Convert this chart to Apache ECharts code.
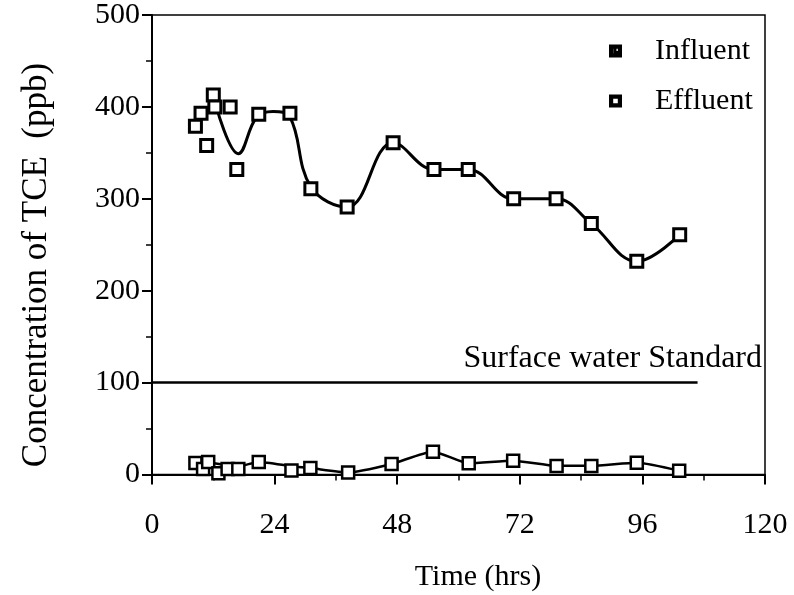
<!DOCTYPE html>
<html>
<head>
<meta charset="utf-8">
<script src="https://cdn.jsdelivr.net/npm/echarts@6/dist/echarts.min.js"></script>
<style>html,body{margin:0;padding:0;background:#fff;}#chart{width:794px;height:595px;}</style>
</head>
<body>
<div id="chart"></div>
<script>
// ---- data ----
var influentTime = [8.5, 9.6, 10.7, 12.0, 12.3, 15.3, 16.6, 20.9, 27.0, 31.1, 38.2, 47.2, 55.2, 61.9, 70.8, 79.1, 86.0, 94.9, 103.3];
var influentTCE  = [379, 393, 358, 413, 400, 400, 332, 392, 393, 311, 291, 361, 332, 332, 300, 300, 273, 232, 261];
// points read along the smooth fitted curve drawn over the influent data
var influentFitTime = [12.6, 16.9, 20.5, 23.7, 27.0, 31.1, 38.2, 47.2, 55.2, 61.9, 70.8, 79.1, 86.0, 94.9, 103.3];
var influentFitTCE  = [400, 349, 389, 395, 389, 313, 291, 361, 332, 332, 300, 300, 273, 232, 261];

var effluentTime = [8.5, 10.0, 11.0, 13.0, 14.8, 16.9, 20.9, 27.3, 31.0, 38.4, 46.9, 55.0, 62.0, 70.7, 79.2, 86.0, 94.9, 103.2];
var effluentTCE  = [12.5, 6, 13.6, 1.3, 6, 6, 13.6, 4.4, 7, 2.2, 11.4, 24.8, 12.2, 15, 9.2, 9.2, 12.8, 4.1];
var effluentFitTime = [11.0, 16.9, 20.9, 27.3, 31.0, 38.4, 46.9, 55.0, 62.0, 70.7, 79.2, 86.0, 94.9, 103.2];
var effluentFitTCE  = [13, 9, 13.6, 9, 7, 2.2, 11.4, 24.8, 12.2, 15, 9.5, 9.5, 12.8, 4.1];

var standardValue = 100;
var standardTime = [0, 106.8];
var standardLabel = 'Surface water Standard';

var xTicks = [0, 24, 48, 72, 96, 120];
var yTicks = [0, 100, 200, 300, 400, 500];

function pairs(xs, ys) { return xs.map(function (x, i) { return [x, ys[i]]; }); }

var FONT = 'Liberation Serif';
var influentIcon = 'path://M0,0H10V10H0Z M2,2V8H8V2Z M4,3V7H7V6H5V3Z';
var effluentIcon = 'path://M0,0H10V10H0Z M2,2V8H8V2Z';

var chart = echarts.init(document.getElementById('chart'), null, {renderer: 'canvas'});
var option = {
  animation: false,
  backgroundColor: '#fff',
  grid: { left: 152, right: 29, top: 15, bottom: 120.5, show: true, borderColor: '#000', borderWidth: 1.5, backgroundColor: 'transparent' },
  xAxis: {
    type: 'value', min: xTicks[0], max: xTicks[xTicks.length - 1], interval: 24,
    axisLine: { lineStyle: { color: '#000', width: 2 } },
    axisTick: { length: 10, lineStyle: { color: '#000', width: 2 } },
    minorTick: { show: true, splitNumber: 2, length: 6, lineStyle: { color: '#000', width: 1.5 } },
    splitLine: { show: false },
    axisLabel: { color: '#000', fontFamily: FONT, fontSize: 30, margin: 36 }
  },
  yAxis: {
    type: 'value', min: yTicks[0], max: yTicks[yTicks.length - 1], interval: 100,
    axisLine: { lineStyle: { color: '#000', width: 2 } },
    axisTick: { length: 10, lineStyle: { color: '#000', width: 2 } },
    minorTick: { show: true, splitNumber: 2, length: 6, lineStyle: { color: '#000', width: 1.5 } },
    splitLine: { show: false },
    axisLabel: { color: '#000', fontFamily: FONT, fontSize: 30, margin: 12 }
  },
  legend: {
    orient: 'vertical', left: 604, top: 31, itemWidth: 11, itemHeight: 11, itemGap: 20,
    textStyle: { color: '#000', fontFamily: FONT, fontSize: 30, padding: [0, 0, 0, 29] },
    data: [
      { name: 'Influent', icon: influentIcon, itemStyle: { color: '#000' } },
      { name: 'Effluent', icon: effluentIcon, itemStyle: { color: '#000' } }
    ]
  },
  series: [
    { name: 'Standard', type: 'line', data: pairs(standardTime, standardTime.map(function () { return standardValue; })),
      showSymbol: false, lineStyle: { color: '#000', width: 2.5 }, z: 2, silent: true },
    { name: 'Influent fit', type: 'line', data: pairs(influentFitTime, influentFitTCE), smooth: 0.4,
      showSymbol: false, lineStyle: { color: '#000', width: 3 }, z: 2 },
    { name: 'Effluent fit', type: 'line', data: pairs(effluentFitTime, effluentFitTCE), smooth: 0.2,
      showSymbol: false, lineStyle: { color: '#000', width: 2.5 }, z: 2 },
    { name: 'Influent', type: 'scatter', data: pairs(influentTime, influentTCE), symbol: 'rect', symbolSize: 12,
      itemStyle: { color: '#fff', borderColor: '#000', borderWidth: 3, opacity: 1 }, z: 5 },
    { name: 'Effluent', type: 'scatter', data: pairs(effluentTime, effluentTCE), symbol: 'rect', symbolSize: 12,
      itemStyle: { color: '#fff', borderColor: '#000', borderWidth: 2.5, opacity: 1 }, z: 5 }
  ]
};
chart.setOption(option);

var p = chart.convertToPixel({ gridIndex: 0 }, [xTicks[xTicks.length - 1], standardValue]);
chart.setOption({
  graphic: [
    { type: 'text', right: 32, top: p[1] - 40,
      style: { text: standardLabel, font: '32px "' + FONT + '"', fill: '#000' } },
    { type: 'text', x: 478, y: 577,
      style: { text: 'Time (hrs)', font: '30px "' + FONT + '"', fill: '#000', align: 'center', verticalAlign: 'middle' } },
    { type: 'text', x: 37, y: 265, rotation: Math.PI / 2,
      style: { text: 'Concentration of TCE  (ppb)', font: '35px "' + FONT + '"', fill: '#000', align: 'center', verticalAlign: 'middle' } }
  ]
});
</script>
</body>
</html>
